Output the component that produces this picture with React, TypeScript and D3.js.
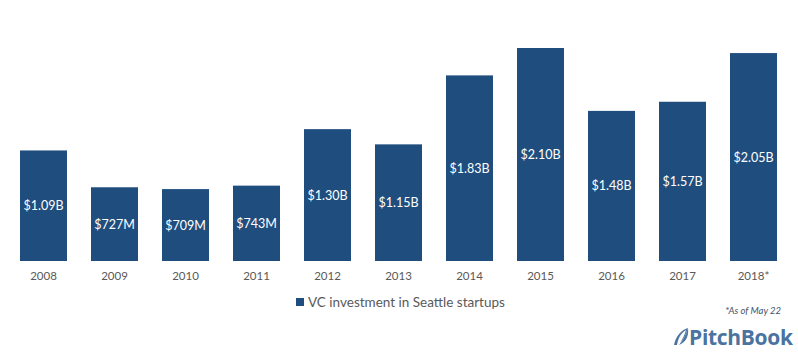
import React from "react";
import * as d3 from "d3";

const years = ["2008", "2009", "2010", "2011", "2012", "2013", "2014", "2015", "2016", "2017", "2018*"];
const values = [1.09, 0.727, 0.709, 0.743, 1.3, 1.15, 1.83, 2.1, 1.48, 1.57, 2.05];
const labels = ["$1.09B", "$727M", "$709M", "$743M", "$1.30B", "$1.15B", "$1.83B", "$2.10B", "$1.48B", "$1.57B", "$2.05B"];
const legendLabel = "VC investment in Seattle startups";
const noteText = "*As of May 22";
const brand = "PitchBook";

const W = 798;
const H = 352;
const barColor = "#1F4E7E";
const font = "Lato, 'Open Sans', sans-serif";

export default function App() {
  const x = d3.scaleBand<string>().domain(years).range([8, 789]).paddingInner(0.338).paddingOuter(0.169);
  const y = d3.scaleLinear().domain([0, 2.1]).range([261, 48]);
  return (
    <svg width={W} height={H} style={{ position: "absolute", left: 0, top: 0 }} fontFamily={font}>
      <rect width={W} height={H} fill="#fff" />
      {years.map((yr, i) => {
        const x0 = x(yr) as number;
        const top = y(values[i]);
        const bottom = y(0);
        return (
          <g key={yr}>
            <rect x={x0} y={top} width={x.bandwidth()} height={bottom - top} fill={barColor} />
            <text x={x0 + x.bandwidth() / 2} y={(top + bottom) / 2 + 4.5} textAnchor="middle" fill="#fff" fontSize={12.5}>
              {labels[i]}
            </text>
            <text x={x0 + x.bandwidth() / 2} y={280} textAnchor="middle" fill="#595959" fontSize={11.5}>
              {yr}
            </text>
          </g>
        );
      })}
      <rect x={296} y={298} width={8} height={8} fill={barColor} />
      <text x={308} y={307} fill="#595959" fontSize={13.5}>{legendLabel}</text>
      <text x={781} y={314} textAnchor="end" fill="#44546A" fontSize={9.5} fontStyle="italic">{noteText}</text>
      <path d="M674,345 C676,336 681,330 688,328 C686,334 684,339 680,343 C683,338 685,334 686,330 C681,333 678,338 677,345 Z" fill="#4A73A0" />
      <path d="M679,345 C683,340 686,335 688,328 C689,336 686,342 679,345 Z" fill="#4A73A0" />
      <text x={689} y={345} fill="#4A73A0" fontSize={21} fontWeight="bold" fontFamily="'Open Sans', sans-serif" letterSpacing={-0.3}>{brand}</text>
    </svg>
  );
}
